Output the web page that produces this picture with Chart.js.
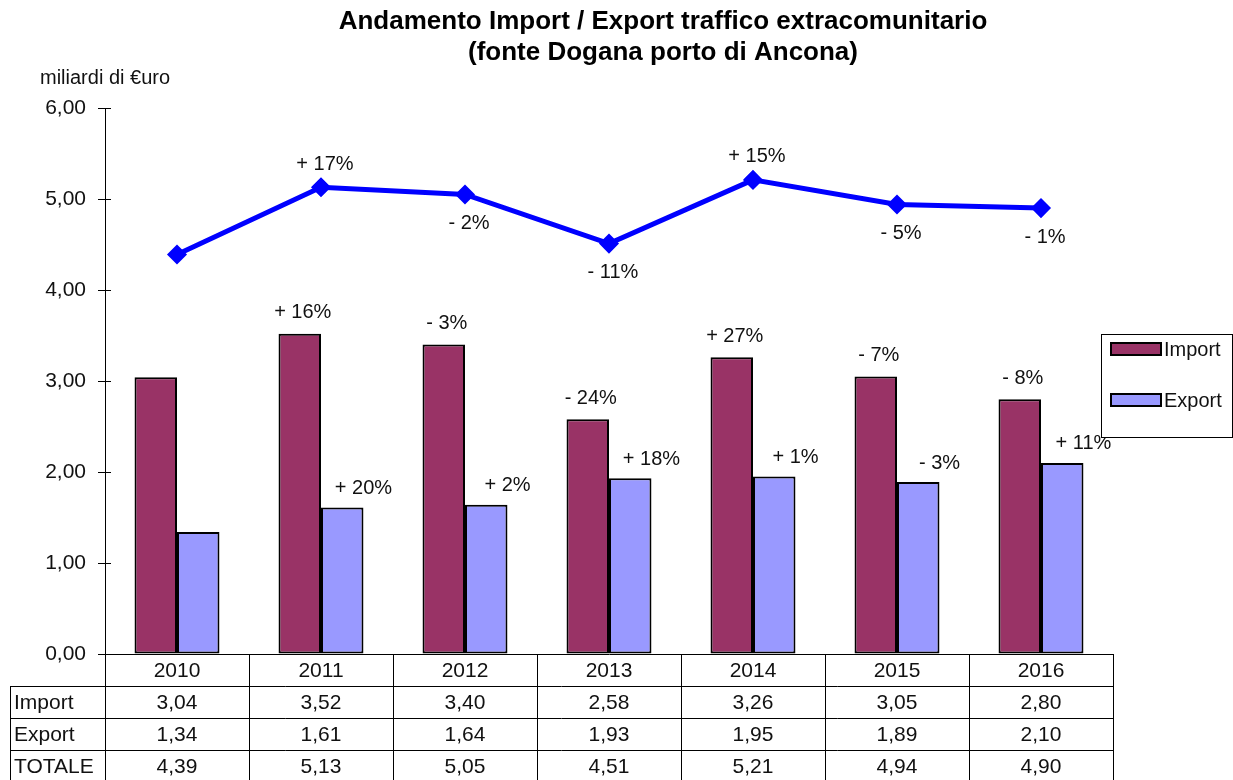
<!DOCTYPE html>
<html>
<head>
<meta charset="utf-8">
<script src="https://cdn.jsdelivr.net/npm/chart.js@4"></script>
<style>
  body { margin: 0; background: #fff; }
  canvas { display: block; }
</style>
</head>
<body>
<canvas id="myGraf" width="1233" height="780"></canvas>
<script>
// dati (miliardi di euro)
var anni = ['2010', '2011', '2012', '2013', '2014', '2015', '2016'];
var importVal = [3.04, 3.52, 3.40, 2.58, 3.26, 3.05, 2.80];
var exportVal = [1.34, 1.61, 1.64, 1.93, 1.95, 1.89, 2.10];
var totaleVal = [4.39, 5.13, 5.05, 4.51, 5.21, 4.94, 4.90];
var importVar = ['', '+ 16%', '- 3%', '- 24%', '+ 27%', '- 7%', '- 8%'];
var exportVar = ['', '+ 20%', '+ 2%', '+ 18%', '+ 1%', '- 3%', '+ 11%'];
var totaleVar = ['', '+ 17%', '- 2%', '- 11%', '+ 15%', '- 5%', '- 1%'];
var titolo = ['Andamento Import / Export traffico extracomunitario', '(fonte Dogana porto di Ancona)'];
var unita = 'miliardi di €uro';

var FONT = '"Liberation Sans", Arial, sans-serif';
var TXT = '#111';

function fmt(v) {
    return v.toFixed(2).replace('.', ',');
}

// titolo, etichette, legenda e tabella dati
var extraPlugin = {
    id: 'extra',
    afterDraw: function(chart) {
        var ctx = chart.ctx;
        var area = chart.chartArea;
        var x = chart.scales.x;
        var y = chart.scales.y;
        ctx.save();

        // titolo
        ctx.fillStyle = '#000';
        ctx.textAlign = 'center';
        ctx.textBaseline = 'middle';
        ctx.font = 'bold 26px ' + FONT;
        ctx.fillText(titolo[0], 663, 22);
        ctx.fillText(titolo[1], 663, 53);

        ctx.fillStyle = TXT;
        ctx.font = '20px ' + FONT;
        ctx.textAlign = 'left';
        ctx.fillText(unita, 40, 78);

        // tacche interne asse y
        ctx.strokeStyle = '#000';
        ctx.lineWidth = 1;
        y.ticks.forEach(function(t) {
            var py = Math.round(y.getPixelForValue(t.value)) + 0.5;
            ctx.beginPath();
            ctx.moveTo(area.left, py);
            ctx.lineTo(area.left + 6, py);
            ctx.stroke();
        });

        // etichette variazioni
        ctx.font = '20px ' + FONT;
        ctx.textAlign = 'center';
        var metaImp = chart.getDatasetMeta(0);
        var metaExp = chart.getDatasetMeta(1);
        var metaTot = chart.getDatasetMeta(2);
        for (var i = 0; i < anni.length; i++) {
            var bi = metaImp.data[i];
            var be = metaExp.data[i];
            var pt = metaTot.data[i];
            if (importVar[i]) ctx.fillText(importVar[i], bi.x + 3, bi.y - 21);
            if (exportVar[i]) ctx.fillText(exportVar[i], be.x + be.width / 2, be.y - 19);
            if (totaleVar[i]) {
                var su = totaleVar[i].charAt(0) === '+';
                ctx.fillText(totaleVar[i], pt.x + 4, su ? pt.y - 23 : pt.y + 29);
            }
        }

        // legenda
        ctx.fillStyle = '#fff';
        ctx.fillRect(1101, 334, 131, 103);
        ctx.strokeRect(1101.5, 334.5, 131, 103);
        ctx.textAlign = 'left';
        [0, 1].forEach(function(k, j) {
            var ds = chart.data.datasets[k];
            var yy = 349 + j * 51;
            ctx.fillStyle = ds.backgroundColor;
            ctx.fillRect(1111, yy - 6, 50, 12);
            ctx.lineWidth = 2;
            ctx.strokeStyle = '#000';
            ctx.strokeRect(1111, yy - 6, 50, 12);
            ctx.fillStyle = TXT;
            ctx.fillText(ds.label, 1164, yy + 1);
        });

        // tabella dati
        ctx.lineWidth = 1;
        ctx.strokeStyle = '#000';
        var w = (area.right - area.left) / anni.length;
        var bottom = area.bottom;
        var rowH = 32;
        var righe = [['', anni], ['Import', importVal.map(fmt)], ['Export', exportVal.map(fmt)], ['TOTALE', totaleVal.map(fmt)]];
        ctx.beginPath();
        for (var r = 1; r < righe.length; r++) {
            var ry = Math.round(bottom + r * rowH) + 0.5;
            ctx.moveTo(10, ry);
            ctx.lineTo(area.right, ry);
        }
        ctx.moveTo(10.5, bottom + rowH);
        ctx.lineTo(10.5, 780);
        for (var c = 0; c <= anni.length; c++) {
            var cx = Math.round(x.getPixelForValue(c) - w / 2) + 0.5;
            ctx.moveTo(cx, bottom);
            ctx.lineTo(cx, 780);
        }
        ctx.stroke();
        ctx.fillStyle = TXT;
        ctx.font = '21px ' + FONT;
        righe.forEach(function(riga, r) {
            var ty = bottom + r * rowH + rowH / 2 + 1;
            ctx.textAlign = 'left';
            ctx.fillText(riga[0], 14, ty);
            ctx.textAlign = 'center';
            riga[1].forEach(function(v, i) {
                ctx.fillText(v, x.getPixelForValue(i), ty);
            });
        });
        ctx.restore();
    }
};

var ctx = document.getElementById('myGraf').getContext('2d');
var myGraf = new Chart(ctx, {
    type: 'bar',
    data: {
        labels: anni,
        datasets: [{
            label: 'Import',
            data: importVal,
            backgroundColor: '#993366',
            borderColor: '#000',
            borderWidth: 2,
            borderSkipped: false,
            order: 2
        }, {
            label: 'Export',
            data: exportVal,
            backgroundColor: '#9999FF',
            borderColor: '#000',
            borderWidth: 2,
            borderSkipped: false,
            order: 2
        }, {
            type: 'line',
            label: 'TOTALE',
            data: totaleVal,
            borderColor: '#0000FF',
            backgroundColor: '#0000FF',
            borderWidth: 5,
            pointStyle: 'rectRot',
            pointRadius: 6.5,
            pointHoverRadius: 6.5,
            tension: 0,
            order: 1
        }]
    },
    options: {
        responsive: false,
        devicePixelRatio: 1,
        animation: false,
        categoryPercentage: 0.59,
        barPercentage: 1,
        layout: { padding: { left: 0, top: 108, right: 120, bottom: 126 } },
        plugins: {
            legend: { display: false },
            title: { display: false },
            tooltip: { enabled: false }
        },
        scales: {
            x: {
                ticks: { display: false },
                grid: { display: false },
                border: { display: true, color: '#000', width: 1 },
                afterFit: function(s) { s.height = 0; }
            },
            y: {
                min: 0,
                max: 6,
                ticks: {
                    stepSize: 1,
                    color: TXT,
                    padding: 12,
                    font: { family: FONT, size: 21 },
                    callback: function(v) { return fmt(v); }
                },
                grid: { drawOnChartArea: false, tickLength: 7, color: '#000' },
                border: { display: true, color: '#000', width: 1 },
                afterFit: function(s) { s.width = 105; }
            }
        }
    },
    plugins: [extraPlugin]
});
</script>
</body>
</html>
